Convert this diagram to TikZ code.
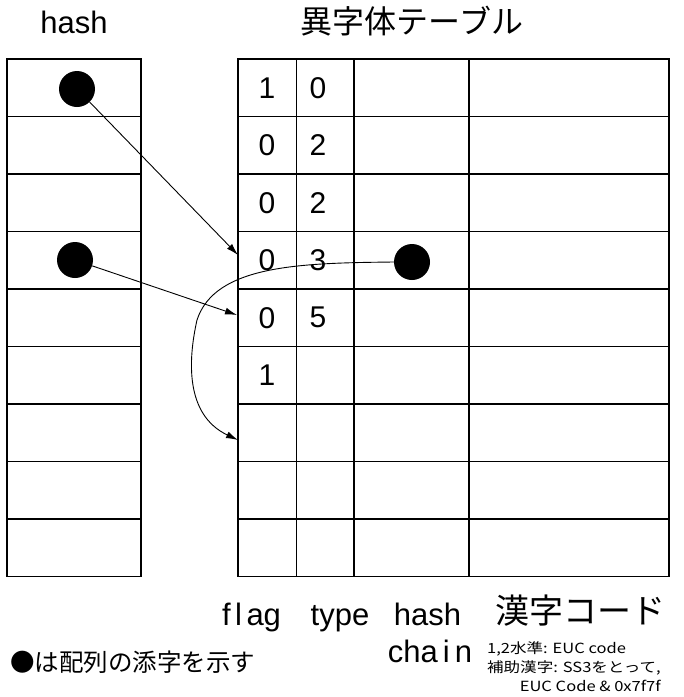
\documentclass[tikz,border=0pt]{standalone}
\usepackage{fontspec}
\setmainfont{Liberation Sans}
\newfontfamily\jp{Noto Sans CJK JP}
\newfontfamily\jpwide{Noto Sans CJK JP}[FakeStretch=1.18]
\usetikzlibrary{arrows.meta}

\begin{document}
\begin{tikzpicture}[x=1pt,y=-1pt,
  grid/.style={line width=1.1pt},
  digit/.style={inner sep=0pt,anchor=center,font=\fontsize{30}{30}\selectfont},
  label/.style={inner sep=0pt,anchor=base,font=\fontsize{31}{31}\selectfont},
  note/.style={inner sep=0pt,font=\jpwide\fontsize{14}{19}\selectfont},
  dot/.style={circle,fill=black,minimum size=36pt,inner sep=0pt},
  arr/.style={line width=0.9pt,-{Latex[length=12pt,width=7pt]}}]
\useasboundingbox (0,0) rectangle (684,697);

% hash array (left column)
\draw[grid] (7,59) rectangle (141,576.5);
\foreach \i in {1,...,8} \draw[grid] (7,59+\i*57.5) -- (141,59+\i*57.5);

% variant table
\draw[grid] (238,59) rectangle (669,576.5);
\foreach \i in {1,...,8} \draw[grid] (238,59+\i*57.5) -- (669,59+\i*57.5);
\foreach \x in {296.5,354,469} \draw[grid] (\x,59) -- (\x,576.5);

% flag / type columns
\node[digit] (f0) at (267,87.75) {1};   \node[digit] (t0) at (318,87.75) {0};
\node[digit] (f1) at (267,145.25) {0};  \node[digit] (t1) at (318,145.25) {2};
\node[digit] (f2) at (267,202.75) {0};  \node[digit] (t2) at (318,202.75) {2};
\node[digit] (f3) at (267,260.25) {0};  \node[digit] (t3) at (318,260.25) {3};
\node[digit] (f4) at (267,317.75) {0};  \node[digit] (t4) at (318,317.75) {5};
\node[digit] (f5) at (267,375.25) {1};

% headings
\node[label] (hh) at (74,33) {hash};
\node[inner sep=0pt,font=\jp\fontsize{32}{32}\selectfont] (title) at (412,21) {異字体テーブル};

% index markers and links
\node[dot] (h1) at (77,89) {};
\node[dot] (h4) at (75,260) {};
\node[dot] (c3) at (412,262) {};
\coordinate (e3) at (238,255);
\coordinate (e4) at (237,315);
\coordinate (e6) at (238,440);
\draw[arr] (h1) -- (e3);
\draw[arr] (h4) -- (e4);
\draw[arr] (c3.west) .. controls (300,263) and (215,265) .. (197,320)
                     .. controls (188,360) and (185,415) .. (e6);

% column captions
\node[label] (cflag) at (251.5,625) {f\hspace{4.5pt}l\hspace{4.5pt}ag};
\node[label] (ctype) at (340,625) {type};
\node[label] (chash) at (427.5,625) {hash};
\node[inner sep=0pt,font=\jp\fontsize{34}{34}\selectfont] (ccode) at (580,611) {漢字コード};
\node[label] (cchain) at (430,662) {cha\hspace{5pt}i\hspace{5pt}n};
\node[note,anchor=base west] (codenote) at (487,653)
  {\begin{tabular}[t]{@{}l@{}}
     1,2水準: EUC code\\
     補助漢字: SS3をとって,\\
     \multicolumn{1}{@{}r@{}}{EUC Code \& 0x7f7f}
   \end{tabular}};

% legend
\node[inner sep=0pt,anchor=west,font=\jp\fontsize{24.5}{24.5}\selectfont] (legend) at (10,662) {●は配列の添字を示す};
\end{tikzpicture}
\end{document}
